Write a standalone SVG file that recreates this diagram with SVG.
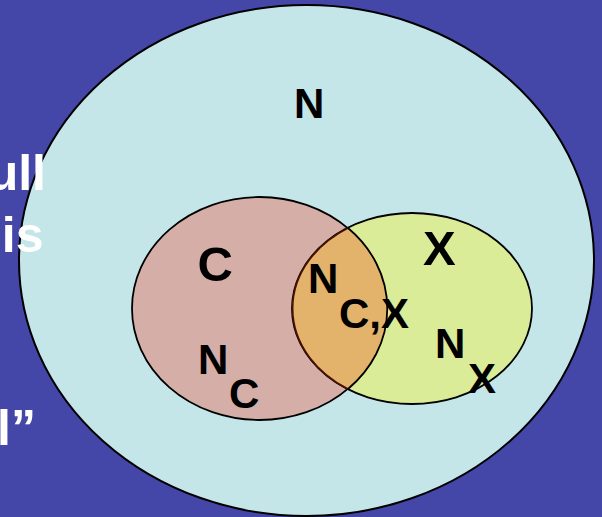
<svg xmlns="http://www.w3.org/2000/svg" width="602" height="517" viewBox="0 0 602 517">
<style>
.lbl{font-family:"Liberation Sans",Arial,sans-serif;font-weight:bold;fill:#000}
.bg{font-family:"Liberation Sans",Arial,sans-serif;font-weight:bold;fill:#fff;font-size:50px}
.s42{font-size:42px}
.s49{font-size:49px}
</style>
<rect x="0" y="0" width="602" height="517" fill="#4446A8"/>
<g id="set-N">
<ellipse cx="306.5" cy="260.5" rx="287.5" ry="255.5" fill="#C4E6E8" stroke="#000" stroke-width="2"/>
<text class="lbl s42" x="294" y="118">N</text>
</g>
<g id="background-text">
<text class="bg" x="46" y="190" text-anchor="end">ull</text>
<text class="bg" x="43.5" y="252" text-anchor="end">is</text>
<text class="bg" x="-3" y="445">l”</text>
</g>
<g id="set-C">
<ellipse cx="259.5" cy="308.5" rx="127.5" ry="111.5" fill="#D5AEA8" stroke="#000" stroke-width="1.8"/>
</g>
<g id="set-X">
<ellipse cx="412" cy="308.5" rx="120" ry="95.5" fill="#DAEC98" stroke="#000" stroke-width="1.8"/>
</g>
<g id="set-CX">
<path d="M348,228 A120,95.5 0 0 0 348,389 A127.5,111.5 0 0 0 348,228 Z" fill="#E3B36B" stroke="none"/>
<path d="M348,228 A120,95.5 0 0 0 348,389" fill="none" stroke="#4A1000" stroke-width="1.8"/>
<path d="M348,389 A127.5,111.5 0 0 0 348,228" fill="none" stroke="#000" stroke-width="1.8"/>
</g>
<g id="labels">
<text class="lbl s49" x="197.5" y="281">C</text>
<text class="lbl s42" x="198" y="374">N</text>
<text class="lbl s42" x="229" y="408">C</text>
<text class="lbl s42" x="308" y="293">N</text>
<text class="lbl s42" x="339" y="328">C,X</text>
<text class="lbl s49" x="423" y="265">X</text>
<text class="lbl s42" x="435" y="358">N</text>
<text class="lbl s42" x="468" y="393">X</text>
</g>
</svg>
